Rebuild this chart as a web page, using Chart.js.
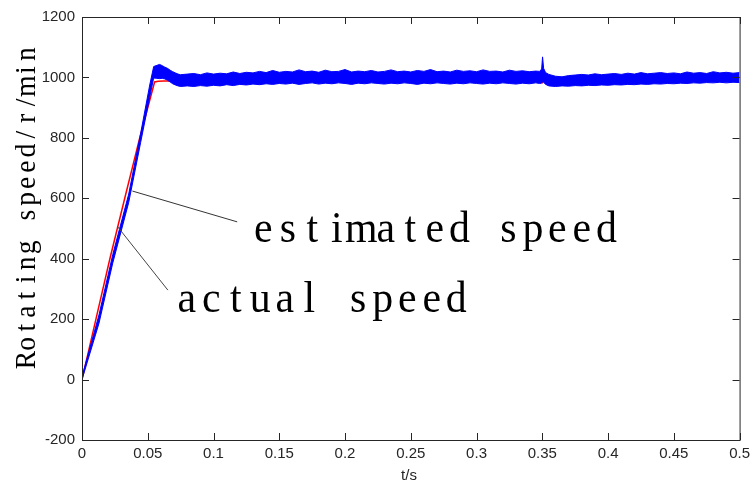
<!DOCTYPE html>
<html>
<head>
<meta charset="utf-8">
<script src="https://cdn.jsdelivr.net/npm/chart.js@4.4.1/dist/chart.umd.min.js"></script>
<style>
  html, body { margin: 0; padding: 0; background: #fff; }
  #wrap { width: 755px; height: 482px; }
</style>
</head>
<body>
<div id="wrap"><canvas id="myChart" width="755" height="482"></canvas></div>
<script>
// estimated speed (blue, noisy band): time and the band's upper / lower edge
const blueTime = [
  0, 0.0129, 0.0234, 0.0355, 0.0446, 0.0515, 0.0545, 0.057, 0.059, 0.061,
  0.063, 0.065, 0.067, 0.069, 0.071, 0.073, 0.075,
  0.08, 0.085, 0.09, 0.095, 0.1, 0.105, 0.11, 0.115, 0.12, 0.125,
  0.13, 0.135, 0.14, 0.145, 0.15, 0.155, 0.16, 0.165, 0.17, 0.175,
  0.18, 0.185, 0.19, 0.195, 0.2, 0.205, 0.21, 0.215, 0.22, 0.225,
  0.23, 0.235, 0.24, 0.245, 0.25, 0.255, 0.26, 0.265, 0.27, 0.275,
  0.28, 0.285, 0.29, 0.295, 0.3, 0.305, 0.31, 0.315, 0.32, 0.325,
  0.33, 0.335, 0.34, 0.345,
  0.348, 0.3495, 0.3502, 0.351, 0.3525, 0.355,
  0.36, 0.365, 0.37, 0.375, 0.38, 0.385, 0.39, 0.395, 0.4, 0.405,
  0.41, 0.415, 0.42, 0.425, 0.43, 0.435, 0.44, 0.445, 0.45, 0.455,
  0.46, 0.465, 0.47, 0.475, 0.48, 0.485, 0.49, 0.495, 0.5
]
const blueUpper = [
  10, 214, 414, 614, 815, 975, 1036, 1040, 1043, 1039,
  1034, 1030, 1024, 1019, 1015, 1011, 1009,
  1011, 1013, 1009, 1015, 1011, 1014, 1012, 1018, 1013, 1017,
  1015, 1020, 1016, 1023, 1017, 1020, 1018, 1025, 1019, 1021,
  1017, 1024, 1019, 1020, 1026, 1018, 1021, 1019, 1023, 1018,
  1020, 1025, 1019, 1021, 1018, 1023, 1020, 1026, 1019, 1021,
  1018, 1024, 1020, 1022, 1019, 1025, 1020, 1021, 1018, 1024,
  1020, 1022, 1019, 1021,
  1020, 1028, 1068, 1030, 1016, 1010,
  1004, 1002, 1006, 1008, 1010, 1008, 1012, 1009, 1011, 1013,
  1010, 1014, 1011, 1016, 1012, 1014, 1016, 1013, 1015, 1012,
  1018, 1014, 1016, 1013, 1019, 1015, 1017, 1014, 1016
]
const blueLower = [
  0, 186, 386, 586, 785, 935, 998, 997, 996, 997,
  995, 991, 985, 979, 975, 972, 970,
  972, 970, 973, 971, 974, 972, 976, 973, 977, 975,
  978, 976, 979, 977, 980, 978, 981, 977, 980, 982,
  978, 981, 979, 982, 980, 977, 981, 979, 982, 980,
  978, 981, 979, 982, 980, 977, 981, 979, 982, 980,
  978, 981, 979, 982, 980, 978, 981, 979, 982, 980,
  978, 981, 979, 982,
  980, 981, 986, 984, 977, 972,
  970, 972, 971, 973, 972, 974, 973, 975, 974, 976,
  975, 977, 976, 978, 977, 979, 978, 980, 979, 981,
  980, 982, 981, 983, 982, 984, 982, 984, 983
]

// actual speed (red)
const redTime  = [0, 0.0106, 0.0212, 0.0325, 0.0439, 0.0552, 0.058, 0.062, 0.066, 0.07, 0.1, 0.2, 0.3, 0.3495, 0.3502, 0.351, 0.353, 0.4, 0.5]
const redSpeed = [0, 200, 400, 600, 800, 985, 987, 988, 988, 990, 995, 1000, 1000, 1000, 985, 992, 996, 998, 1000]

// leader lines and label anchors (data coordinates)
const estLeadTime = [0.0383, 0.118]
const estLeadSpeed = [624, 522]
const actLeadTime = [0.0267, 0.0653]
const actLeadSpeed = [508, 296]
const labelText = ["estimated speed", "actual speed"]
const labelTime = [0.1286, 0.0703]
const labelSpeed = [455, 224]

const xTicks = [0, 0.5, 0.05]
const yTicks = [-200, 1200, 200]

const pts = (xs, ys) => xs.map((x, i) => ({x: x, y: ys[i]}))

function monoText(ctx, text, x, y, adv, sx) {
    for (let i = 0; i < text.length; i++) {
        ctx.save()
        ctx.translate(x + i * adv + adv / 2, y)
        ctx.scale(sx, 1)
        ctx.fillText(text[i], 0, 0)
        ctx.restore()
    }
}

const boxPlugin = {
    id: 'box',
    afterDraw(chart) {
        const ctx = chart.ctx
        const a = chart.chartArea
        const xs = chart.scales.x, ys = chart.scales.y
        ctx.save()
        ctx.strokeStyle = '#262626'
        ctx.lineWidth = 1
        ctx.strokeRect(a.left + 0.5, a.top + 0.5, a.right - a.left, a.bottom - a.top)
        ctx.beginPath()
        xs.ticks.forEach(t => {
            const p = Math.round(xs.getPixelForValue(t.value)) + 0.5
            ctx.moveTo(p, a.bottom); ctx.lineTo(p, a.bottom - 7)
            ctx.moveTo(p, a.top); ctx.lineTo(p, a.top + 7)
        })
        ys.ticks.forEach(t => {
            const p = Math.round(ys.getPixelForValue(t.value)) + 0.5
            ctx.moveTo(a.left, p); ctx.lineTo(a.left + 7, p)
            ctx.moveTo(a.right, p); ctx.lineTo(a.right - 7, p)
        })
        ctx.stroke()

        // labels
        ctx.fillStyle = '#000'
        ctx.textAlign = 'center'
        ctx.textBaseline = 'alphabetic'
        ctx.font = '44px "Liberation Serif"'
        labelText.forEach((s, i) => {
            monoText(ctx, s, xs.getPixelForValue(labelTime[i]), ys.getPixelForValue(labelSpeed[i]), 24.5, 0.95)
        })

        // y title
        ctx.font = '29px "Liberation Serif"'
        ctx.save()
        ctx.translate(35, 368)
        ctx.rotate(-Math.PI / 2)
        monoText(ctx, 'Rotating speed/r/min', 0, 0, 16.1, 0.95)
        ctx.restore()

        // x title
        ctx.font = '15px "Liberation Sans"'
        ctx.fillStyle = '#262626'
        ctx.fillText('t/s', 409, 480)
        ctx.restore()
    }
}

const data = {
    datasets: [
        {label: 'lead1', data: pts(estLeadTime, estLeadSpeed), borderColor: '#333', borderWidth: 1, pointRadius: 0},
        {label: 'lead2', data: pts(actLeadTime, actLeadSpeed), borderColor: '#444', borderWidth: 1, pointRadius: 0},
        {label: 'estimated speed', data: pts(blueTime, blueUpper), borderColor: '#0000ff', backgroundColor: '#0000ff', borderWidth: 1, pointRadius: 0, fill: '+1'},
        {label: 'estimated speed low', data: pts(blueTime, blueLower), borderColor: '#0000ff', borderWidth: 1, pointRadius: 0},
        {label: 'actual speed', data: pts(redTime, redSpeed), borderColor: '#ff0000', borderWidth: 1.5, pointRadius: 0}
    ]
}

const config = {
    type: 'line',
    data: data,
    options: {
        responsive: false,
        devicePixelRatio: 1,
        animation: false,
        layout: {padding: {top: 17, right: 12, left: 0, bottom: 0}},
        plugins: {legend: {display: false}, tooltip: {enabled: false}},
        scales: {
            x: {
                type: 'linear', min: xTicks[0], max: xTicks[1],
                grid: {display: false, drawTicks: false}, border: {display: false},
                ticks: {stepSize: xTicks[2], autoSkip: false, maxRotation: 0, padding: 5, color: '#262626',
                    font: {family: 'Liberation Sans', size: 15},
                    callback: v => String(+v.toFixed(2))},
                afterFit: s => { s.height = 42 }
            },
            y: {
                min: yTicks[0], max: yTicks[1],
                grid: {display: false, drawTicks: false}, border: {display: false},
                ticks: {stepSize: yTicks[2], padding: 7, color: '#262626',
                    font: {family: 'Liberation Sans', size: 15},
                    callback: v => String(v)},
                afterFit: s => { s.width = 82 }
            }
        }
    },
    plugins: [boxPlugin]
}

const myChart = new Chart(document.getElementById("myChart"), config)
</script>
</body>
</html>
